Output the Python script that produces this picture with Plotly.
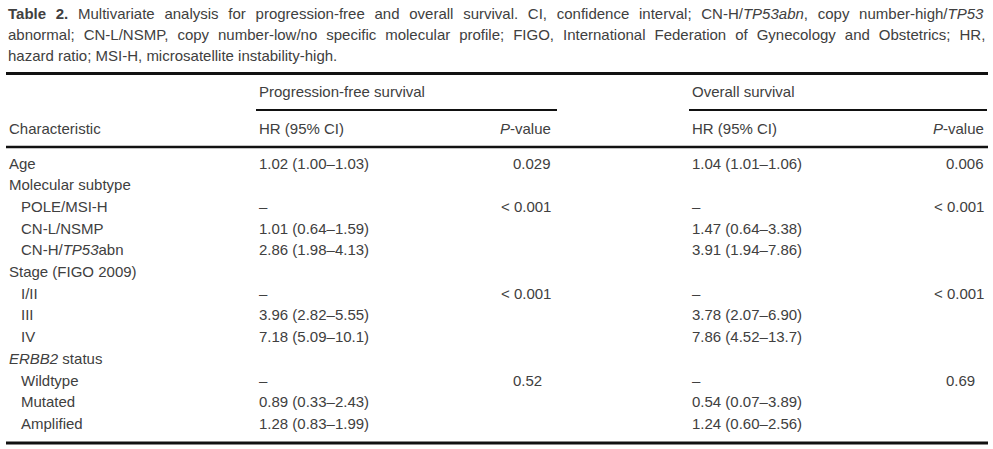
import plotly.graph_objects as go

# ---- data ----
caption_lines = [
    "<b>Table 2.</b> Multivariate analysis for progression-free and overall survival. CI, confidence interval; CN-H/<i>TP53abn</i>, copy number-high/<i>TP53</i>",
    "abnormal; CN-L/NSMP, copy number-low/no specific molecular profile; FIGO, International Federation of Gynecology and Obstetrics; HR,",
    "hazard ratio; MSI-H, microsatellite instability-high.",
]
caption_wordspacing = [5.55, 4.8, 0]

group_headers = ["Progression-free survival", "Overall survival"]
col_headers = ["Characteristic", "HR (95% CI)", "<i>P</i>-value", "HR (95% CI)", "<i>P</i>-value"]

labels = ["Age", "Molecular subtype", "POLE/MSI-H", "CN-L/NSMP", "CN-H/<i>TP53</i>abn",
          "Stage (FIGO 2009)", "I/II", "III", "IV", "<i>ERBB2</i> status",
          "Wildtype", "Mutated", "Amplified"]
indent = [0, 0, 1, 1, 1, 0, 1, 1, 1, 0, 1, 1, 1]
pfs_hr = ["1.02 (1.00–1.03)", "", "–", "1.01 (0.64–1.59)", "2.86 (1.98–4.13)", "", "–",
          "3.96 (2.82–5.55)", "7.18 (5.09–10.1)", "", "–", "0.89 (0.33–2.43)", "1.28 (0.83–1.99)"]
pfs_p = ["0.029", "", "< 0.001", "", "", "", "< 0.001", "", "", "", "0.52", "", ""]
os_hr = ["1.04 (1.01–1.06)", "", "–", "1.47 (0.64–3.38)", "3.91 (1.94–7.86)", "", "–",
         "3.78 (2.07–6.90)", "7.86 (4.52–13.7)", "", "–", "0.54 (0.07–3.89)", "1.24 (0.60–2.56)"]
os_p = ["0.006", "", "< 0.001", "", "", "", "< 0.001", "", "", "", "0.69", "", ""]

# ---- layout constants ----
W, H = 993, 449
FONT = "Liberation Sans, Arial, sans-serif"
TXT = "#404040"
FS = 15
x_left, x_right = 6, 988
x_label, x_indent = 7, 19
x_pfs_hr, x_pfs_p = 257, 553
x_os_hr, x_os_p = 690, 986
span_pfs = (256, 557)
span_os = (689, 987)
y_cap0, cap_step = 13, 21
y_top, y_span, y_head, y_bottom = 73.5, 110, 147, 443
y_group, y_colhead = 91, 128
y_row0, row_step = 163, 21.7

ann = []

def add(x, y, text, anchor="left", size=FS, color=TXT):
    ann.append(dict(x=x, y=y, xref="x", yref="y", text=text, showarrow=False,
                    xanchor=anchor, yanchor="middle",
                    font=dict(family=FONT, size=size, color=color)))

for i, line in enumerate(caption_lines):
    ws = caption_wordspacing[i]
    t = f'<span style="word-spacing:{ws}px">{line}</span>' if ws else line
    add(x_left, y_cap0 + i * cap_step, t)

add(x_pfs_hr, y_group, group_headers[0])
add(x_os_hr, y_group, group_headers[1])
add(x_label, y_colhead, col_headers[0])
add(x_pfs_hr, y_colhead, col_headers[1])
add(x_pfs_p, y_colhead, col_headers[2], anchor="right")
add(x_os_hr, y_colhead, col_headers[3])
add(x_os_p, y_colhead, col_headers[4], anchor="right")

def pad_p(p):
    # decimal alignment: pad with figure spaces to 3 decimals
    if not p:
        return p
    dec = len(p.split(".")[-1])
    return p + "\u2007" * (3 - dec)

for i, lab in enumerate(labels):
    y = y_row0 + i * row_step
    add(x_indent if indent[i] else x_label, y, lab)
    if pfs_hr[i]:
        add(x_pfs_hr, y, pfs_hr[i])
    if pfs_p[i]:
        add(x_pfs_p, y, pad_p(pfs_p[i]), anchor="right")
    if os_hr[i]:
        add(x_os_hr, y, os_hr[i])
    if os_p[i]:
        add(x_os_p, y, pad_p(os_p[i]), anchor="right")

shapes = []
def hline(x0, x1, y, w):
    shapes.append(dict(type="line", xref="x", yref="y", x0=x0, x1=x1, y0=y, y1=y,
                       line=dict(color="#111111", width=w)))

hline(x_left, x_right, y_top, 3)
hline(span_pfs[0], span_pfs[1], y_span, 2)
hline(span_os[0], span_os[1], y_span, 2)
hline(x_left, x_right, y_head, 2.5)
hline(x_left, x_right, y_bottom, 3)

fig = go.Figure(go.Scatter(x=[], y=[]))
fig.update_layout(
    width=W, height=H, margin=dict(l=0, r=0, t=0, b=0),
    paper_bgcolor="white", plot_bgcolor="white", showlegend=False,
    xaxis=dict(range=[0, W], visible=False, fixedrange=True),
    yaxis=dict(range=[H, 0], visible=False, fixedrange=True),
    annotations=ann, shapes=shapes,
)
fig.write_html("out.html", config={"displayModeBar": False},
               post_script="document.body.style.margin='0';document.body.style.overflow='hidden';")
